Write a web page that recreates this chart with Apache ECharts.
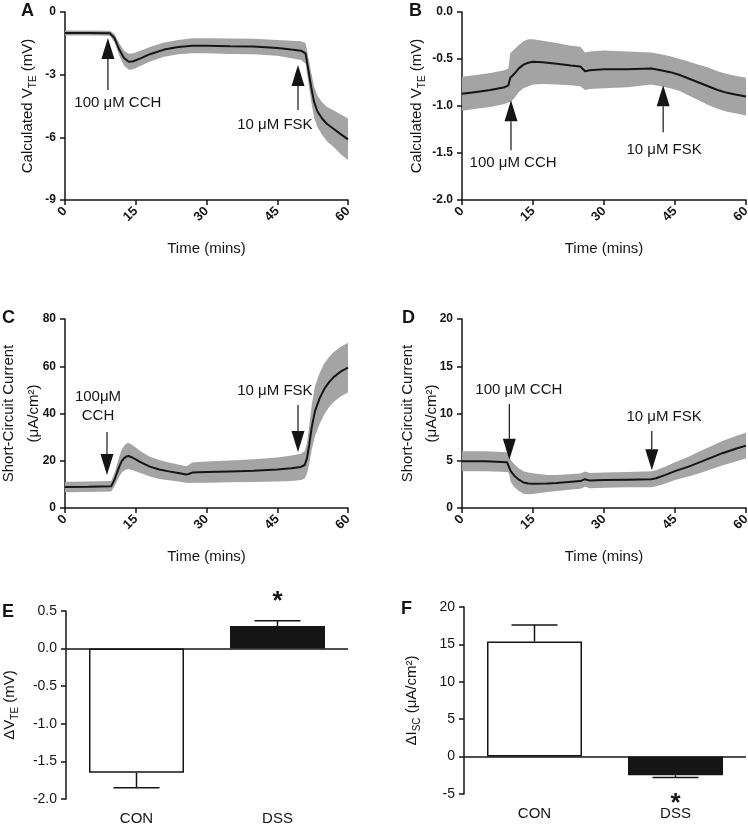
<!DOCTYPE html>
<html>
<head>
<meta charset="utf-8">
<script src="https://cdn.jsdelivr.net/npm/echarts@6/dist/echarts.min.js"></script>
<style>
html, body { margin: 0; padding: 0; background: #fff; }
#chart { width: 748px; height: 825px; }
</style>
</head>
<body>
<div id="chart"></div>
<script>
// A: calculated VTE, control (mean and sem, mV)
var tA    = [0, 5, 9.5, 10.5, 11.5, 12.5, 13.5, 14.5, 16, 18, 21, 24, 27, 30, 35, 40, 45, 48, 50, 51, 51.6, 52.2, 52.8, 53.5, 54.5, 55.5, 57, 58.5, 60];
var meanA = [-1.0, -1.0, -1.02, -1.25, -1.8, -2.2, -2.38, -2.36, -2.22, -2.02, -1.8, -1.68, -1.62, -1.62, -1.64, -1.65, -1.72, -1.8, -1.85, -1.98, -2.78, -3.6, -4.3, -4.75, -5.1, -5.35, -5.6, -5.86, -6.1];
var semA  = [0.12, 0.12, 0.12, 0.2, 0.3, 0.36, 0.38, 0.38, 0.37, 0.35, 0.34, 0.34, 0.36, 0.36, 0.37, 0.37, 0.38, 0.42, 0.45, 0.5, 0.6, 0.7, 0.75, 0.75, 0.78, 0.82, 0.88, 0.95, 1.0];

// B: calculated VTE, DSS
var tB    = [0, 3, 6, 9, 9.8, 10.2, 11, 12, 13, 14, 15, 17, 20, 23, 25, 26, 27, 30, 35, 40, 42, 44, 46, 48, 50, 52, 54, 56, 58, 60];
var meanB = [-0.87, -0.85, -0.83, -0.8, -0.78, -0.7, -0.66, -0.6, -0.56, -0.54, -0.53, -0.535, -0.55, -0.57, -0.58, -0.63, -0.62, -0.61, -0.61, -0.6, -0.62, -0.64, -0.67, -0.71, -0.75, -0.79, -0.83, -0.86, -0.88, -0.9];
var semB  = [0.18, 0.18, 0.18, 0.18, 0.18, 0.26, 0.26, 0.25, 0.25, 0.25, 0.24, 0.23, 0.22, 0.21, 0.21, 0.2, 0.2, 0.2, 0.19, 0.17, 0.17, 0.17, 0.17, 0.18, 0.19, 0.2, 0.2, 0.2, 0.2, 0.2];

// C: short-circuit current, control (uA/cm2)
var tC    = [0, 5, 9.8, 10.5, 11, 11.5, 12, 12.5, 13, 13.5, 14, 15, 16, 18, 20, 22, 24, 25.7, 26.2, 27, 30, 35, 40, 45, 48, 50, 50.8, 51.3, 51.8, 52.3, 53, 54, 55, 56, 57, 58.5, 60];
var meanC = [8.9, 9.0, 9.2, 12, 14.8, 17.5, 19.7, 21, 21.8, 22, 21.6, 20.6, 19.4, 17.5, 16.3, 15.5, 14.8, 14.2, 14.4, 15.0, 15.2, 15.5, 15.8, 16.3, 16.8, 17.4, 18.2, 21, 27, 34, 41, 46.5, 50.5, 53.3, 55.5, 57.8, 59.4];
var semC  = [2.2, 2.2, 2.2, 2.8, 3.5, 4.2, 4.8, 5.2, 5.5, 5.5, 5.4, 5.0, 4.6, 4.2, 4.0, 3.8, 3.6, 3.5, 3.8, 4.3, 4.5, 4.6, 4.8, 5.1, 5.4, 5.6, 5.8, 6.5, 8, 9.5, 10.5, 10.8, 10.8, 10.6, 10.5, 10.5, 10.5];

// D: short-circuit current, DSS
var tD    = [0, 5, 9.5, 9.9, 10.3, 11, 12, 13, 14, 15, 18, 20, 25, 26, 27, 30, 35, 40, 41, 43, 45, 48, 50, 52, 55, 58, 60];
var meanD = [4.95, 4.95, 4.85, 4.75, 3.9, 3.45, 3.0, 2.7, 2.6, 2.57, 2.6, 2.65, 2.85, 3.05, 2.9, 2.95, 3.0, 3.05, 3.15, 3.5, 3.9, 4.4, 4.8, 5.2, 5.8, 6.3, 6.6];
var semD  = [1.05, 1.05, 1.05, 1.05, 1.15, 1.2, 1.2, 1.2, 1.15, 1.1, 0.9, 0.85, 0.8, 0.8, 0.8, 0.8, 0.8, 0.85, 0.85, 0.9, 0.95, 1.05, 1.15, 1.2, 1.3, 1.35, 1.35];

// E, F: change after stimulation
var barCats  = ['CON', 'DSS'];
var dVte     = [-1.65, 0.30];
var dVteErr  = [-1.85, 0.37];
var dIsc     = [15.4, -2.5];
var dIscErr  = [17.6, -2.8];

// drug additions: [time, tail, tip, label, label time, label value]
var arrowsA = [[9.1, -3.73, -1.25, '100 \u03bcM CCH', 11.2, -4.36], [49.4, -4.69, -2.54, '10 \u03bcM FSK', 44.5, -5.41]];
var arrowsB = [[10.35, -1.47, -0.94, '100 \u03bcM CCH', 10.8, -1.6], [42.5, -1.28, -0.78, '10 \u03bcM FSK', 42.7, -1.47]];
var arrowsC = [[8.9, 32.2, 14.0, '100\u03bcM\nCCH', 7.0, 43.0], [49.4, 43.6, 23.7, '10 \u03bcM FSK', 44.5, 49.5]];
var arrowsD = [[10.0, 11.0, 5.1, '100 \u03bcM CCH', 12.0, 12.5], [40.1, 8.15, 4.0, '10 \u03bcM FSK', 42.7, 9.6]];

var FONT = '"Liberation Sans", Arial, sans-serif';
var INK = '#151515';
var BAND = '#a4a4a4';

var chart = echarts.init(document.getElementById('chart'));

function pairs(t, v) { return t.map(function (x, i) { return [x, v[i]]; }); }

var grids = [
    { left: 65, top: 12, width: 283, height: 188 },
    { left: 462, top: 12, width: 284, height: 188 },
    { left: 65, top: 319, width: 283, height: 189 },
    { left: 462, top: 319, width: 284, height: 189 },
    { left: 66, top: 611, width: 282, height: 188 },
    { left: 464, top: 607, width: 282, height: 187 }
].map(function (gr) { gr.outerBoundsMode = 'none'; gr.containLabel = false; return gr; });

var subRich = {
    n: { fontSize: 15, fontFamily: FONT, color: INK, lineHeight: 20, verticalAlign: 'middle' },
    s: { fontSize: 10, fontFamily: FONT, color: INK, lineHeight: 12, verticalAlign: 'bottom' }
};

function timeAxis(k) {
    return {
        gridIndex: k, type: 'value', min: 0, max: 60, interval: 15,
        axisLine: { onZero: false, lineStyle: { color: INK, width: 1.5 } },
        axisTick: { length: 5, lineStyle: { color: INK, width: 1.5 } },
        axisLabel: { rotate: 45, fontSize: 13, fontWeight: 'bold', color: INK, fontFamily: FONT, margin: 9 },
        splitLine: { show: false },
        name: 'Time (mins)', nameLocation: 'middle', nameGap: 41, nameMoveOverlap: false,
        nameTextStyle: { fontSize: 15, fontFamily: FONT, color: INK }
    };
}

function valAxis(k, min, max, interval, name, gap, bold, fmt, lh) {
    return {
        gridIndex: k, type: 'value', min: min, max: max, interval: interval,
        axisLine: { show: true, onZero: false, lineStyle: { color: INK, width: 1.5 } },
        axisTick: { show: true, length: 5, lineStyle: { color: INK, width: 1.5 } },
        axisLabel: { fontSize: bold ? 12 : 14, fontWeight: bold ? 'bold' : 'normal', color: INK, fontFamily: FONT, margin: 9, formatter: fmt },
        splitLine: { show: false },
        name: name, nameLocation: 'middle', nameGap: gap, nameRotate: 90, nameMoveOverlap: false,
        nameTextStyle: { fontSize: 15, fontFamily: FONT, color: INK, lineHeight: lh || 20, rich: subRich }
    };
}

function bandSeries(k, t, mean, sem) {
    // mean +/- sem drawn as one filled polygon through the axes
    var band = t.map(function (x, i) { return [x, mean[i] - sem[i], mean[i] + sem[i]]; });
    return [
        { type: 'custom', xAxisIndex: k, yAxisIndex: k, silent: true, z: 2,
          encode: { x: 0, y: [1, 2] }, data: band,
          renderItem: function (params, api) {
              if (params.dataIndexInside !== 0) return;
              var up = [], lo = [];
              for (var j = 0; j < params.dataInsideLength; j++) {
                  up.push(api.coord([api.value(0, j), api.value(2, j)]));
                  lo.push(api.coord([api.value(0, j), api.value(1, j)]));
              }
              return { type: 'polygon', shape: { points: up.concat(lo.reverse()) }, style: { fill: BAND } };
          } },
        { type: 'line', xAxisIndex: k, yAxisIndex: k, symbol: 'none', silent: true,
          data: pairs(t, mean), lineStyle: { color: INK, width: 2 }, z: 3 }
    ];
}

function barSeries(k, vals, errs) {
    return [
        { type: 'bar', xAxisIndex: k, yAxisIndex: k, barWidth: 95, silent: true,
          data: [
              { value: vals[0], itemStyle: { color: '#fff', borderColor: INK, borderWidth: 1.5 } },
              { value: vals[1], itemStyle: { color: INK } }
          ],
          markLine: { silent: true, symbol: 'none', label: { show: false },
              lineStyle: { color: INK, width: 1.5, type: 'solid' }, data: [{ yAxis: 0 }] } },
        { type: 'custom', xAxisIndex: k, yAxisIndex: k, silent: true, z: 1,
          data: vals.map(function (v, i) { return [i, v, errs[i]]; }),
          renderItem: function (params, api) {
              var a = api.coord([api.value(0), api.value(1)]);
              var b = api.coord([api.value(0), api.value(2)]);
              var st = { stroke: INK, lineWidth: 1.5 };
              return { type: 'group', children: [
                  { type: 'line', shape: { x1: a[0], y1: a[1], x2: b[0], y2: b[1] }, style: st },
                  { type: 'line', shape: { x1: b[0] - 23, y1: b[1], x2: b[0] + 23, y2: b[1] }, style: st }
              ] };
          } }
    ];
}

function catAxis(k) {
    return {
        gridIndex: k, type: 'category', data: barCats,
        axisLine: { show: false, onZero: false }, axisTick: { show: false },
        axisLabel: { fontSize: 15, color: INK, fontFamily: FONT, margin: 12 }
    };
}

var option = {
    animation: false,
    backgroundColor: '#fff',
    grid: grids,
    xAxis: [timeAxis(0), timeAxis(1), timeAxis(2), timeAxis(3), catAxis(4), catAxis(5)],
    yAxis: [
        valAxis(0, -9, 0, 3, '{n|Calculated V}{s|TE}{n| (mV)}', 27, true),
        valAxis(1, -2, 0, 0.5, '{n|Calculated V}{s|TE}{n| (mV)}', 35, true, function (v) { return v.toFixed(1); }),
        valAxis(2, 0, 80, 20, 'Short-Circuit Current\n(\u03bcA/cm\u00b2)', 19, true, null, 25),
        valAxis(3, 0, 20, 5, 'Short-Circuit Current\n(\u03bcA/cm\u00b2)', 18, true, null, 24),
        valAxis(4, -2, 0.5, 0.5, '{n|\u0394V}{s|TE}{n| (mV)}', 46, false, function (v) { return v.toFixed(1); }),
        valAxis(5, -5, 20, 5, '{n|\u0394I}{s|SC}{n| (\u03bcA/cm\u00b2)}', 42, false)
    ],
    series: [].concat(
        bandSeries(0, tA, meanA, semA),
        bandSeries(1, tB, meanB, semB),
        bandSeries(2, tC, meanC, semC),
        bandSeries(3, tD, meanD, semD),
        barSeries(4, dVte, dVteErr),
        barSeries(5, dIsc, dIscErr)
    )
};
chart.setOption(option);

// annotations placed through the axes
var g = [];
function addArrows(k, list) {
    list.forEach(function (a) {
        var p0 = chart.convertToPixel({ gridIndex: k }, [a[0], a[1]]);
        var p1 = chart.convertToPixel({ gridIndex: k }, [a[0], a[2]]);
        var dir = p1[1] > p0[1] ? 1 : -1;
        var base = p1[1] - dir * 21;
        g.push({ type: 'line', shape: { x1: p0[0], y1: p0[1], x2: p1[0], y2: base }, style: { stroke: INK, lineWidth: 1.2 }, z: 10 });
        g.push({ type: 'polygon', shape: { points: [[p1[0], p1[1]], [p1[0] - 6.5, base], [p1[0] + 6.5, base]] }, style: { fill: INK }, z: 10 });
        var lp = chart.convertToPixel({ gridIndex: k }, [a[4], a[5]]);
        g.push({ type: 'text', x: lp[0], y: lp[1], z: 10,
            style: { text: a[3], fontSize: 15, fontFamily: FONT, fill: INK, align: 'center', verticalAlign: 'middle', lineHeight: 19 } });
    });
}
addArrows(0, arrowsA);
addArrows(1, arrowsB);
addArrows(2, arrowsC);
addArrows(3, arrowsD);

var starE = chart.convertToPixel({ gridIndex: 4 }, [1, dVteErr[1]]);
var starF = chart.convertToPixel({ gridIndex: 5 }, [1, -5]);
g.push({ type: 'text', x: starE[0], y: starE[1] - 6, style: { text: '*', fontSize: 26, fontWeight: 'bold', fontFamily: FONT, fill: INK, align: 'center', verticalAlign: 'bottom' } });
g.push({ type: 'text', x: starF[0], y: starF[1] - 3, style: { text: '*', fontSize: 26, fontWeight: 'bold', fontFamily: FONT, fill: INK, align: 'center', verticalAlign: 'top' } });

var letters = [['A', 21, 2], ['B', 409, 2], ['C', 2, 309], ['D', 402, 309], ['E', 2, 603], ['F', 401, 600]];
letters.forEach(function (l) {
    g.push({ type: 'text', x: l[1], y: l[2], style: { text: l[0], fontSize: 18, fontWeight: 'bold', fontFamily: FONT, fill: INK, align: 'left', verticalAlign: 'top' } });
});

chart.setOption({ graphic: g });
</script>
</body>
</html>
